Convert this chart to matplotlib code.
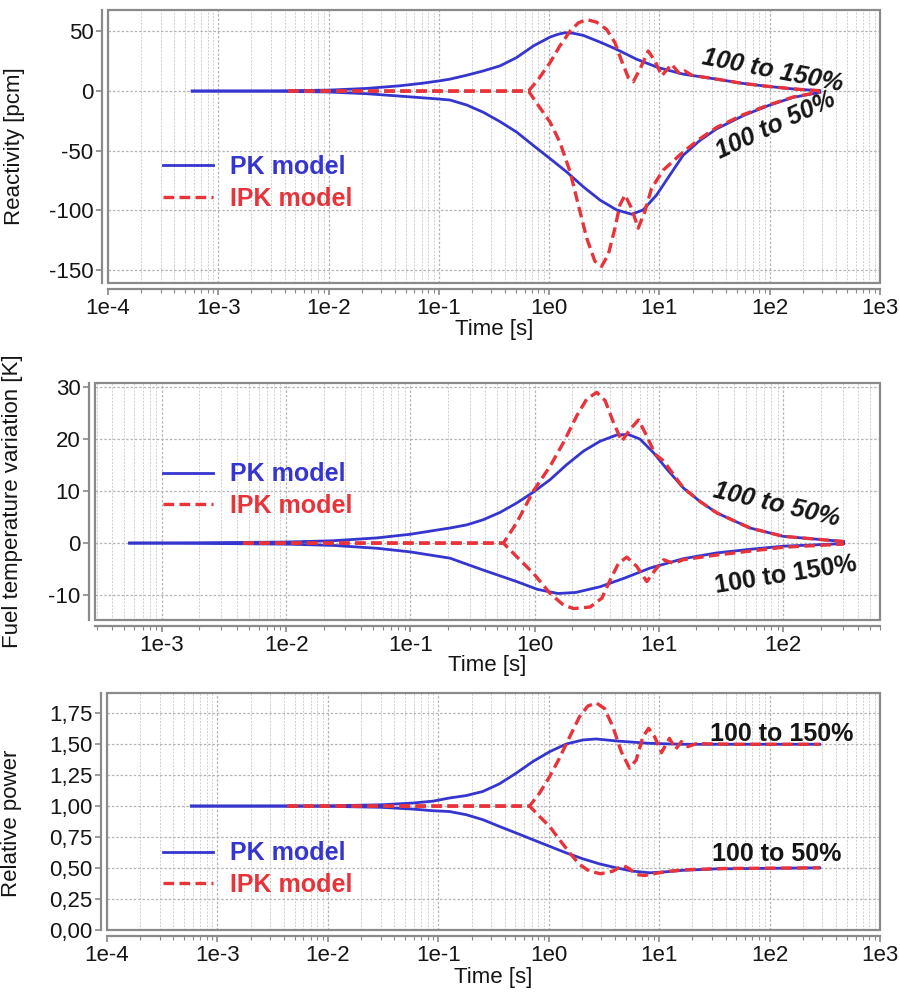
import matplotlib
matplotlib.use("Agg")
import matplotlib.pyplot as plt
from matplotlib.patches import Rectangle
from matplotlib.ticker import FixedLocator, FixedFormatter, LogLocator, NullFormatter

plt.rcParams['font.family'] = ['Liberation Sans', 'DejaVu Sans']
plt.rcParams['axes.unicode_minus'] = False

# ---------------- data ----------------
# Panel 1: reactivity [pcm]
rho_pk_up_t = [5.8e-4, 1e-3, 3e-3, 1e-2, 0.022, 0.044, 0.07, 0.1, 0.126, 0.179, 0.253, 0.358, 0.507, 0.718, 1.02, 1.2, 1.39, 1.65, 2.04, 2.89, 4.09, 6.21, 9.75, 16.4, 33, 57, 97, 163, 285]
rho_pk_up_v = [0, 0, 0.1, 0.8, 2.2, 4.4, 6.5, 8.5, 10, 13.3, 16.9, 21.1, 28.1, 37.8, 45.3, 47.6, 48.9, 48.5, 46.7, 41.1, 35, 26.7, 19.7, 14.2, 10, 6.4, 3.9, 1.8, 0.3]
rho_pk_dn_t = [5.8e-4, 1e-3, 3e-3, 1e-2, 0.022, 0.044, 0.07, 0.1, 0.126, 0.179, 0.253, 0.358, 0.507, 0.718, 1.02, 1.44, 2.04, 2.89, 4.09, 5.6, 7.13, 9.42, 12.4, 16.4, 23.3, 33, 57.6, 97, 163, 285]
rho_pk_dn_v = [0, 0, -0.1, -0.8, -2.2, -4.2, -5.6, -6.7, -7.5, -11.7, -17.8, -25.6, -34.4, -45.6, -56.7, -67.8, -80.3, -91.4, -99.7, -103.3, -99.7, -87.2, -70.6, -53.9, -41.4, -31.7, -20.6, -12.2, -5.3, -1.1]
rho_ipk_up_t = [4.3e-3, 1e-2, 0.1, 0.4, 0.65, 0.8, 1.02, 1.25, 1.55, 1.84, 2.19, 2.69, 3.32, 3.95, 4.54, 5.22, 5.79, 6.65, 7.92, 9.1, 10.5, 12.9, 15.3, 17.0, 19.6, 33, 57, 97, 163, 285]
rho_ipk_up_v = [0, 0, 0, 0, 0, 10, 23.9, 37.8, 50.3, 57.2, 60, 57.8, 51.7, 40.6, 25.3, 11.4, 7.8, 18.3, 33.6, 25.3, 12.8, 22.5, 14.2, 16.9, 13.3, 10, 6.4, 3.9, 1.8, 0.3]
rho_ipk_dn_t = [4.3e-3, 1e-2, 0.1, 0.4, 0.65, 0.8, 1.02, 1.25, 1.55, 1.84, 2.19, 2.6, 2.99, 3.44, 3.95, 4.38, 4.87, 5.59, 6.42, 7.38, 8.48, 10.8, 16.4, 23.3, 33, 57.6, 97, 163, 285]
rho_ipk_dn_v = [0, 0, 0, 0, 0, -12.2, -26.1, -42.8, -67.8, -95.6, -123.3, -142.8, -147, -137, -115, -95.6, -87.2, -98.3, -115, -101, -81.7, -66.4, -51.1, -40, -30.5, -19.8, -11.8, -5, -0.8]

# Panel 2: fuel temperature variation [K]
tf_pk_50_t = [5.5e-4, 1e-3, 1e-2, 0.024, 0.054, 0.1, 0.208, 0.284, 0.386, 0.526, 0.716, 0.975, 1.33, 1.81, 2.47, 3.36, 4.57, 5.67, 7.04, 9.02, 11.6, 15.7, 21.4, 29.2, 54, 100, 306]
tf_pk_50_v = [0, 0, 0.2, 0.45, 1.0, 1.7, 2.9, 3.5, 4.5, 5.9, 7.7, 9.8, 12.2, 15.1, 17.7, 19.6, 20.8, 20.9, 20.0, 17.4, 14.2, 10.6, 8.0, 5.8, 2.9, 1.3, 0.3]
tf_pk_150_t = [5.5e-4, 1e-3, 1e-2, 0.024, 0.054, 0.1, 0.208, 0.386, 0.716, 1.05, 1.54, 2.14, 3.36, 5.2, 8.5, 15.7, 29, 54, 100, 306]
tf_pk_150_v = [0, 0, -0.2, -0.45, -1.0, -1.7, -2.9, -5.2, -7.4, -8.9, -9.7, -9.5, -8.4, -6.8, -4.8, -3.0, -1.9, -1.2, -0.6, -0.1]
tf_ipk_50_t = [4.5e-3, 1e-2, 0.1, 0.4, 0.56, 0.716, 0.975, 1.33, 1.70, 2.18, 2.62, 3.16, 3.69, 4.3, 5.02, 5.86, 6.84, 7.98, 9.31, 10.9, 15.7, 21.4, 29.2, 54, 100, 306]
tf_ipk_50_v = [0, 0, 0, 0, 0, 3.9, 10.0, 14.8, 19.3, 24.5, 27.7, 29.0, 27.4, 23.2, 19.6, 21.9, 23.7, 20.6, 17.1, 15.8, 10.6, 8.0, 5.8, 2.9, 1.3, 0.3]
tf_ipk_150_t = [4.5e-3, 1e-2, 0.1, 0.4, 0.56, 0.716, 0.975, 1.33, 1.70, 2.05, 2.79, 3.47, 4.05, 4.72, 5.51, 6.63, 7.98, 9.31, 10.9, 13.1, 15.7, 29, 100, 306]
tf_ipk_150_v = [0, 0, 0, 0, 0, -2.6, -5.8, -9.7, -11.9, -12.6, -12.3, -10.6, -7.1, -3.9, -2.7, -4.5, -7.4, -5.2, -3.2, -3.9, -3.2, -2.3, -0.8, -0.2]

# Panel 3: relative power
p_pk_150_t = [5.8e-4, 1e-3, 1e-2, 0.03, 0.06, 0.09, 0.126, 0.179, 0.253, 0.358, 0.507, 0.718, 1.02, 1.44, 2.04, 2.69, 4.09, 8.0, 16, 50, 285]
p_pk_150_v = [1, 1, 1.002, 1.01, 1.025, 1.04, 1.065, 1.085, 1.118, 1.18, 1.266, 1.36, 1.44, 1.502, 1.535, 1.543, 1.527, 1.508, 1.5, 1.5, 1.5]
p_pk_50_t = [5.8e-4, 1e-3, 1e-2, 0.03, 0.06, 0.09, 0.126, 0.179, 0.253, 0.358, 0.507, 0.718, 1.02, 1.44, 2.04, 2.89, 4.09, 5.79, 8.2, 11.6, 16.4, 33, 285]
p_pk_50_v = [1, 1, 0.998, 0.99, 0.975, 0.962, 0.956, 0.93, 0.89, 0.835, 0.782, 0.728, 0.674, 0.621, 0.573, 0.532, 0.5, 0.473, 0.46, 0.468, 0.48, 0.492, 0.5]
p_ipk_150_t = [4.3e-3, 1e-2, 0.1, 0.4, 0.67, 0.826, 1.02, 1.25, 1.55, 1.90, 2.26, 2.69, 3.2, 3.81, 4.54, 5.4, 6.2, 7.13, 8.03, 9.1, 10.5, 12.4, 14.1, 15.9, 18.2, 21.7, 50, 285]
p_ipk_150_v = [1, 1, 1, 1, 1, 1.105, 1.239, 1.387, 1.561, 1.723, 1.809, 1.835, 1.79, 1.642, 1.44, 1.306, 1.373, 1.561, 1.629, 1.561, 1.432, 1.548, 1.46, 1.521, 1.481, 1.505, 1.5, 1.5]
p_ipk_50_t = [4.3e-3, 1e-2, 0.1, 0.4, 0.67, 0.826, 1.02, 1.25, 1.55, 1.90, 2.34, 2.95, 3.8, 4.7, 5.4, 6.2, 7.4, 9.1, 12.4, 18.8, 40, 285]
p_ipk_50_v = [1, 1, 1, 1, 1, 0.916, 0.835, 0.728, 0.621, 0.527, 0.473, 0.452, 0.473, 0.519, 0.492, 0.446, 0.438, 0.454, 0.473, 0.486, 0.495, 0.5]

# ticks / labels
x_ticks = [1e-4, 1e-3, 1e-2, 1e-1, 1e0, 1e1, 1e2, 1e3]
x_tick_labels = ["1e-4", "1e-3", "1e-2", "1e-1", "1e0", "1e1", "1e2", "1e3"]
x_ticks_mid = [1e-3, 1e-2, 1e-1, 1e0, 1e1, 1e2]
x_tick_labels_mid = ["1e-3", "1e-2", "1e-1", "1e0", "1e1", "1e2"]
rho_ticks = [50, 0, -50, -100, -150]
tf_ticks = [30, 20, 10, 0, -10]
p_ticks = [0.0, 0.25, 0.5, 0.75, 1.0, 1.25, 1.5, 1.75]
p_tick_labels = ["0,00", "0,25", "0,50", "0,75", "1,00", "1,25", "1,50", "1,75"]
legend_labels = ["PK model", "IPK model"]

BLUE = "#3535cf"
RED = "#e8333a"
TXT = "#151515"
GRID = "#b5b5b5"

fig = plt.figure(figsize=(9, 9.94), dpi=100)

ax1 = fig.add_axes([108/900, 1-283/994, 772/900, 273/994])
ax2 = fig.add_axes([95/900, 1-620/994, 785/900, 237/994])
ax3 = fig.add_axes([107/900, 1-930/994, 773/900, 237/994])


def style(ax, xlim, ylim, xt, xtl):
    ax.set_xscale('log')
    ax.set_xlim(*xlim)
    ax.set_ylim(*ylim)
    ax.xaxis.set_major_locator(FixedLocator(xt))
    ax.xaxis.set_major_formatter(FixedFormatter(xtl))
    ax.xaxis.set_minor_locator(LogLocator(base=10, subs=range(2, 10), numticks=20))
    ax.xaxis.set_minor_formatter(NullFormatter())
    for s in ['top', 'right']:
        ax.spines[s].set_visible(False)
    for s in ['left', 'bottom']:
        ax.spines[s].set_position(('outward', 4.5))
        ax.spines[s].set_color('#8a8a8a')
        ax.spines[s].set_linewidth(1.6)
    ax.add_patch(Rectangle((0, 0), 1, 1, transform=ax.transAxes, fill=False,
                           edgecolor='#8a8a8a', lw=1.6, clip_on=False, zorder=5))
    ax.grid(True, which='major', axis='both', color=GRID, ls=(0, (2, 1.5)), lw=0.9)
    ax.grid(True, which='minor', axis='x', color='#cfcfcf', ls=(0, (2, 1.5)), lw=0.7)
    ax.tick_params(axis='both', which='major', labelsize=16, colors='#8a8a8a',
                   labelcolor=TXT, length=4, width=1.2, pad=2)
    ax.tick_params(axis='x', which='minor', colors='#8a8a8a', length=3, width=0.8)
    ax.set_axisbelow(True)


def curves(ax, pk1, pk2, ipk1, ipk2):
    l1, = ax.plot(pk1[0], pk1[1], color=BLUE, lw=2.0, zorder=3)
    ax.plot(pk2[0], pk2[1], color=BLUE, lw=2.0, zorder=3)
    l2, = ax.plot(ipk1[0], ipk1[1], color=RED, lw=2.4, ls=(0, (3.2, 1.6)), zorder=4)
    ax.plot(ipk2[0], ipk2[1], color=RED, lw=2.4, ls=(0, (3.2, 1.6)), zorder=4)
    return l1, l2


def legend(ax, handles, x, y):
    leg = ax.legend(handles, legend_labels, loc='center left', bbox_to_anchor=(x, y),
                    frameon=False, borderpad=0, borderaxespad=0, handlelength=2.0,
                    handletextpad=0.7, labelspacing=0.3,
                    prop={'size': 18, 'weight': 'bold'})
    leg.get_texts()[0].set_color(BLUE)
    leg.get_texts()[1].set_color(RED)


# ---- panel 1
style(ax1, (1e-4, 1e3), (-161, 68), x_ticks, x_tick_labels)
ax1.yaxis.set_major_locator(FixedLocator(rho_ticks))
h = curves(ax1, (rho_pk_up_t, rho_pk_up_v), (rho_pk_dn_t, rho_pk_dn_v),
           (rho_ipk_up_t, rho_ipk_up_v), (rho_ipk_dn_t, rho_ipk_dn_v))
legend(ax1, h, 0.071, 0.367)
ax1.set_ylabel("Reactivity [pcm]", fontsize=16, color=TXT)
ax1.yaxis.set_label_coords(-0.1075, 0.5)
ax1.set_xlabel("Time [s]", fontsize=16, color=TXT, va='center')
ax1.xaxis.set_label_coords(0.5, -0.172)
ax1.text(107, 16.7, "100 to 150%", fontsize=18, fontweight='bold', style='italic',
         color=TXT, rotation=-11, ha='center', va='center', rotation_mode='anchor', zorder=6)
ax1.text(112, -29, "100 to 50%", fontsize=18, fontweight='bold', style='italic',
         color=TXT, rotation=25, ha='center', va='center', rotation_mode='anchor', zorder=6)

# ---- panel 2
style(ax2, (2.9e-4, 600), (-14.8, 30.8), x_ticks_mid, x_tick_labels_mid)
ax2.yaxis.set_major_locator(FixedLocator(tf_ticks))
h = curves(ax2, (tf_pk_50_t, tf_pk_50_v), (tf_pk_150_t, tf_pk_150_v),
           (tf_ipk_50_t, tf_ipk_50_v), (tf_ipk_150_t, tf_ipk_150_v))
legend(ax2, h, 0.0866, 0.5485)
ax2.set_ylabel("Fuel temperature variation [K]", fontsize=16, color=TXT)
ax2.yaxis.set_label_coords(-0.0917, 0.5)
ax2.set_xlabel("Time [s]", fontsize=16, color=TXT, va='center')
ax2.xaxis.set_label_coords(0.5, -0.19)
ax2.text(89, 7.4, "100 to 50%", fontsize=18, fontweight='bold', style='italic',
         color=TXT, rotation=-13, ha='center', va='center', rotation_mode='anchor', zorder=6)
ax2.text(104, -6.1, "100 to 150%", fontsize=18, fontweight='bold',
         color=TXT, rotation=9, ha='center', va='center', rotation_mode='anchor', zorder=6)

# ---- panel 3
style(ax3, (1e-4, 1e3), (-0.003, 1.915), x_ticks, x_tick_labels)
ax3.yaxis.set_major_locator(FixedLocator(p_ticks))
ax3.yaxis.set_major_formatter(FixedFormatter(p_tick_labels))
h = curves(ax3, (p_pk_150_t, p_pk_150_v), (p_pk_50_t, p_pk_50_v),
           (p_ipk_150_t, p_ipk_150_v), (p_ipk_50_t, p_ipk_50_v))
legend(ax3, h, 0.0724, 0.257)
ax3.set_ylabel("Relative power", fontsize=16, color=TXT)
ax3.yaxis.set_label_coords(-0.11, 0.45)
ax3.set_xlabel("Time [s]", fontsize=16, color=TXT, va='center')
ax3.xaxis.set_label_coords(0.5, -0.2025)
ax3.text(128, 1.585, "100 to 150%", fontsize=18, fontweight='bold',
         color=TXT, ha='center', va='center', zorder=6)
ax3.text(115, 0.61, "100 to 50%", fontsize=18, fontweight='bold',
         color=TXT, ha='center', va='center', zorder=6)

fig.savefig("out.png", dpi=100)
